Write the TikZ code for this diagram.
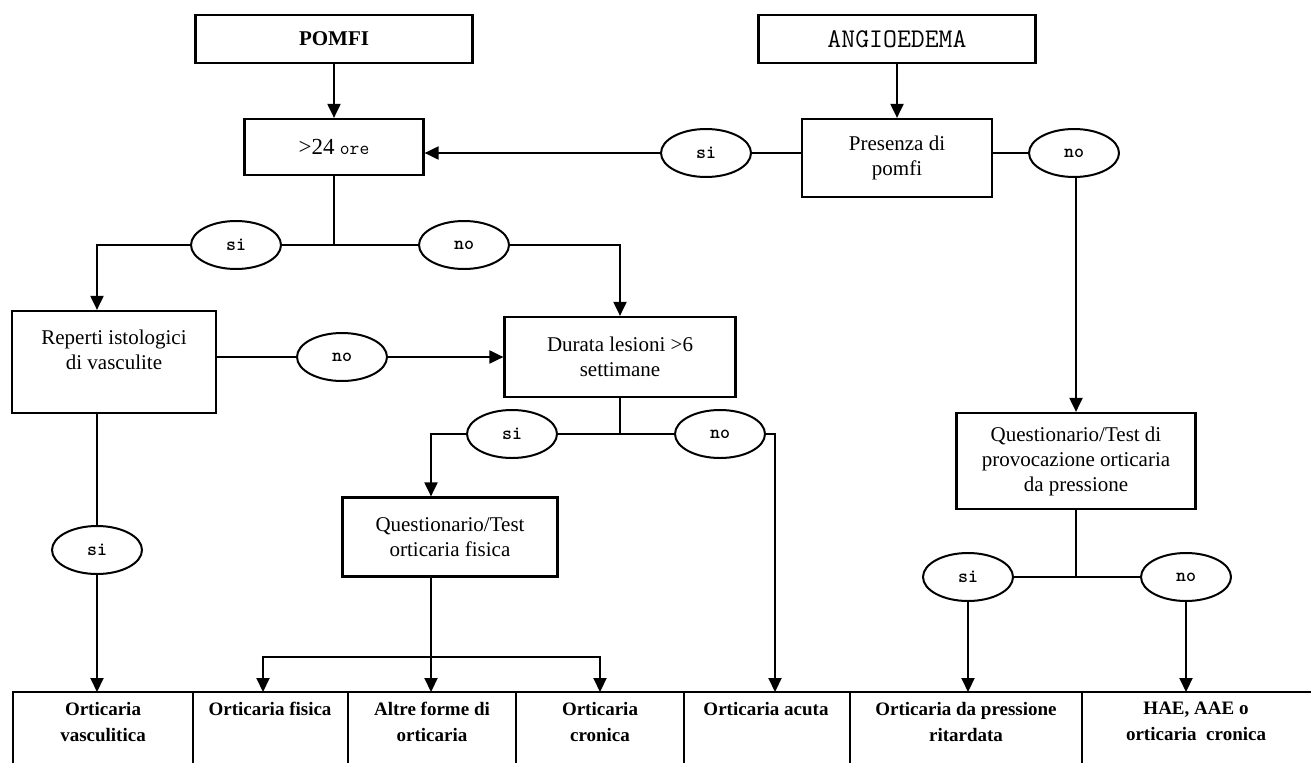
\documentclass[tikz,border=0pt]{standalone}
\usepackage{fontspec}
\setmainfont{Liberation Serif}
\usetikzlibrary{arrows.meta,shapes.geometric}
\begin{document}
\begin{tikzpicture}[x=1pt,y=-1pt,
  box/.style={draw, line width=2.2pt, inner sep=0pt, align=center, font=\fontsize{21}{25}\selectfont},
  oval/.style={draw, ellipse, line width=2pt, minimum width=90pt, minimum height=48pt, inner sep=0pt, font=\ttfamily\bfseries\fontsize{19}{22}\selectfont},
  conn/.style={line width=2pt},
  arr/.style={conn, -{Triangle[length=14pt,width=13pt]}},
  outtxt/.style={anchor=north, align=center, inner sep=0pt, font=\bfseries\fontsize{19}{26}\selectfont},
  row/.style={line width=2pt}
]
\useasboundingbox (0,0) rectangle (1311,763);
\fill[white] (0,0) rectangle (1311,763);

% top boxes
\node[box, minimum width=277pt, minimum height=48pt, font=\bfseries\fontsize{21}{25}\selectfont] (pomfi) at (334,39) {POMFI};
\node[box, minimum width=277pt, minimum height=48pt, font=\ttfamily\fontsize{27}{30}\selectfont\addfontfeatures{LetterSpace=8}] (angio) at (897,39) {ANGIOEDEMA};
\node[box, minimum width=179pt, minimum height=56pt] (ore24) at (334,147) {{\fontsize{23}{25}\selectfont >24} {\ttfamily\fontsize{19}{22}\selectfont ore}};
\node[box, minimum width=190pt, minimum height=78pt] (pres) at (897,158) {Presenza di\\pomfi};
\node[oval] (siA) at (706,153) {si};
\node[oval] (noA) at (1074,153) {no};

% second level
\coordinate (j1) at (334,245);
\coordinate (c1) at (97,245);
\coordinate (c2) at (620,245);
\node[oval] (siB) at (236,245) {si};
\node[oval] (noB) at (464,245) {no};
\node[box, minimum width=204pt, minimum height=102pt] (rep) at (114,362) {Reperti istologici\\di vasculite\\\mbox{}};
\node[box, minimum width=231pt, minimum height=80pt] (dur) at (620,357) {Durata lesioni >6\\settimane};
\node[oval] (noC) at (342,357) {no};

% third level
\coordinate (j2) at (620,434);
\coordinate (c3) at (431,434);
\coordinate (c4) at (775,434);
\node[oval] (siD) at (512,434) {si};
\node[oval] (noD) at (720,434) {no};
\node[box, minimum width=215pt, minimum height=79pt] (qfis) at (450,537) {Questionario/Test\\orticaria fisica};
\node[box, minimum width=239pt, minimum height=96pt] (qprov) at (1076,461) {Questionario/Test di\\provocazione orticaria\\da pressione};
\node[oval] (siE) at (97,550) {si};
\coordinate (c5) at (431,657);
\coordinate (j3) at (1076,577);
\node[oval] (siF) at (968,577) {si};
\node[oval] (noF) at (1186,577) {no};

% bottom row targets
\coordinate (t1) at (97,692);
\coordinate (t2) at (263,692);
\coordinate (t3) at (431,692);
\coordinate (t4) at (600,692);
\coordinate (t5) at (775,692);
\coordinate (t6) at (968,692);
\coordinate (t7) at (1186,692);

% bottom row table
\draw[row] (13,763) -- (13,692) -- (1311,692);
\foreach \xx in {193,348,516,684,850,1082} { \draw[row] (\xx,692) -- (\xx,763); }
\node[outtxt] (o1) at (103,702) {Orticaria\\vasculitica};
\node[outtxt] (o2) at (270,702) {Orticaria fisica};
\node[outtxt] (o3) at (432,702) {Altre forme di\\orticaria};
\node[outtxt] (o4) at (600,702) {Orticaria\\cronica};
\node[outtxt] (o5) at (766,702) {Orticaria acuta};
\node[outtxt] (o6) at (966,702) {Orticaria da pressione\\ritardata};
\node[outtxt] (o7) at (1196,702) {HAE, AAE o\\orticaria\ \ cronica};

% connectors
\draw[arr] (pomfi.south) -- (ore24.north);
\draw[arr] (angio.south) -- (pres.north);
\draw[conn] (pres.west |- siA) -- (siA);
\draw[arr] (siA) -- (siA -| ore24.east);
\draw[conn] (pres.east |- noA) -- (noA);
\draw[arr] (noA.south -| qprov.north) -- (qprov.north);

\draw[conn] (ore24.south) -- (j1);
\draw[conn] (j1) -- (siB);
\draw[conn] (j1) -- (noB);
\draw[arr] (siB) -- (c1) -- (c1 |- rep.north);
\draw[arr] (noB) -- (c2) -- (dur.north);
\draw[conn] (rep.east |- noC) -- (noC);
\draw[arr] (noC) -- (noC -| dur.west);

\draw[conn] (dur.south) -- (j2);
\draw[conn] (j2) -- (siD);
\draw[conn] (j2) -- (noD);
\draw[arr] (siD) -- (c3) -- (c3 |- qfis.north);
\draw[arr] (noD) -- (c4) -- (t5);

\draw[conn] (rep.south -| c1) -- (siE);
\draw[arr] (siE) -- (t1);
\draw[arr] (qfis.south -| c3) -- (t3);
\draw[arr] (c5) -| (t2);
\draw[arr] (c5) -| (t4);

\draw[conn] (qprov.south) -- (j3);
\draw[conn] (j3) -- (siF);
\draw[conn] (j3) -- (noF);
\draw[arr] (siF) -- (t6);
\draw[arr] (noF) -- (t7);
\end{tikzpicture}
\end{document}
